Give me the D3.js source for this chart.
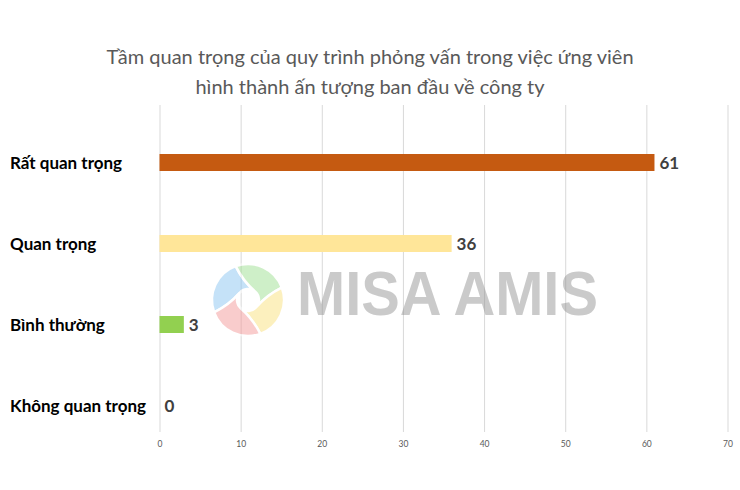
<!DOCTYPE html>
<html><head><meta charset="utf-8">
<script src="https://cdn.jsdelivr.net/npm/d3@7"></script>
<style>body{margin:0;background:#fff}svg{display:block}</style>
</head><body>
<script>
const categories = ["Rất quan trọng", "Quan trọng", "Bình thường", "Không quan trọng"];
const values = [61, 36, 3, 0];
const barColors = ["#C55A11", "#FFE699", "#92D050", "#A5A5A5"];
const tickValues = [0, 10, 20, 30, 40, 50, 60, 70];
const titleLines = ["Tầm quan trọng của quy trình phỏng vấn trong việc ứng viên", "hình thành ấn tượng ban đầu về công ty"];

const W = 740, H = 490;
const svg = d3.select("body").append("svg").attr("width", W).attr("height", H);
const font = "Lato, 'Open Sans', sans-serif";

const x = d3.scaleLinear().domain([0, 70]).range([159.5, 727.5]);
const y = d3.scalePoint().domain(categories).range([122, 446]).padding(0.5);
const gridTop = 105, gridBottom = 432, barH = 17;

// title
svg.append("g").selectAll("text").data(titleLines).join("text")
  .attr("x", 370).attr("y", (d, i) => 64 + i * 30)
  .attr("text-anchor", "middle").attr("font-family", font)
  .attr("font-size", 20).attr("fill", "#595959").text(d => d);

// gridlines + tick labels via axis
const axis = d3.axisBottom(x).tickValues(tickValues).tickSize(-(gridBottom - gridTop)).tickPadding(9);
const ag = svg.append("g").attr("transform", `translate(0,${gridBottom})`).call(axis);
ag.select(".domain").remove();
ag.selectAll(".tick line").attr("stroke", "#d9d9d9").attr("stroke-width", 1);
ag.selectAll(".tick text").attr("font-family", font).attr("font-size", 8.5).attr("fill", "#595959");

// watermark logo
const wm = svg.append("g").attr("opacity", 0.5);
const cx = 248, cy = 300, R = 36, r0 = 11;
const segColors = ["#8cc6f2", "#9fe092", "#fbe27f", "#f59a9a"];
const startAngles = [-200, -110, -20, 70];
const rad = d => d * Math.PI / 180;
const pt = (r, a) => [cx + r * Math.cos(rad(a)), cy + r * Math.sin(rad(a))];
startAngles.forEach((a0, i) => {
  const a1 = a0 + 90;
  const p = d3.path();
  p.moveTo(...pt(R, a0));
  p.arc(cx, cy, R, rad(a0), rad(a1));
  p.quadraticCurveTo(...pt(R * 0.55, a1 + 5), ...pt(r0, a1 + 60));
  p.arc(cx, cy, r0, rad(a1 + 60), rad(a0 + 60), true);
  p.quadraticCurveTo(...pt(R * 0.55, a0 + 5), ...pt(R, a0));
  p.closePath();
  wm.append("path").attr("d", p.toString()).attr("fill", segColors[i])
    .attr("stroke", "#fff").attr("stroke-width", 2.5);
});
svg.append("text").attr("x", 297).attr("y", 315)
  .attr("font-family", "'Liberation Sans', Arial, sans-serif").attr("font-size", 63)
  .attr("font-weight", "bold")
  .attr("textLength", 301).attr("lengthAdjust", "spacingAndGlyphs")
  .attr("fill", "#8c8c8c").attr("opacity", 0.45).text("MISA AMIS");

// bars
svg.append("g").selectAll("rect").data(values).join("rect")
  .attr("x", x(0)).attr("y", (d, i) => y(categories[i]) - barH / 2)
  .attr("width", d => x(d) - x(0)).attr("height", barH)
  .attr("fill", (d, i) => barColors[i]);

// value labels
svg.append("g").selectAll("text").data(values).join("text")
  .attr("x", d => x(d) + 5).attr("y", (d, i) => y(categories[i]))
  .attr("dy", "0.36em").attr("font-family", font).attr("font-weight", "bold")
  .attr("font-size", 17).attr("fill", "#404040").text(d => d);

// category labels
svg.append("g").selectAll("text").data(categories).join("text")
  .attr("x", 10).attr("y", d => y(d))
  .attr("dy", "0.36em").attr("font-family", font).attr("font-weight", "bold")
  .attr("font-size", 17).attr("fill", "#000").text(d => d);
</script>
</body></html>
